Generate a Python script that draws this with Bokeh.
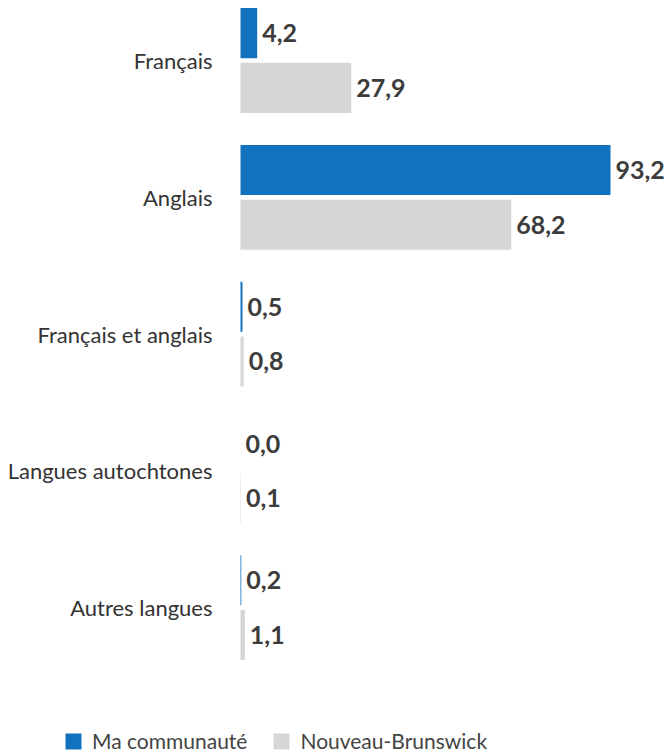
from bokeh.plotting import figure
from bokeh.models import ColumnDataSource, Range1d, Legend, LegendItem
from bokeh.transform import dodge
from bokeh.core.properties import value
from bokeh.embed import file_html
from bokeh.resources import INLINE

categories = ["Français", "Anglais", "Français et anglais", "Langues autochtones", "Autres langues"]
communaute = [4.2, 93.2, 0.5, 0.0, 0.2]
nouveau_brunswick = [27.9, 68.2, 0.8, 0.1, 1.1]
series_names = ["Ma communauté", "Nouveau-Brunswick"]

BLUE = "#1272BE"
GRAY = "#D6D6D6"
TXT = "#3C3C3C"
FONT = "Lato"

def fmt(v):
    return f"{v:.1f}".replace(".", ",")

src = ColumnDataSource(dict(
    pos=list(range(len(categories))),
    cat=categories,
    zero=[0] * len(categories),
    a=communaute,
    b=nouveau_brunswick,
    la=[fmt(v) for v in communaute],
    lb=[fmt(v) for v in nouveau_brunswick],
))

W, H = 668, 754
px_x = 3.97      # pixels per percent
px_y = 136.8     # pixels per category
left_px = 240
top_px = 60

x_range = Range1d(-left_px / px_x, (W - left_px) / px_x)
y_range = Range1d(start=-top_px / px_y + H / px_y, end=-top_px / px_y)

p = figure(width=W, height=H, x_range=x_range, y_range=y_range,
           output_backend="svg", toolbar_location=None,
           min_border_left=0, min_border_right=0, min_border_top=0, min_border_bottom=0)

off = 0.2
h = 0.366
r1 = p.hbar(y=dodge("pos", -off), right="a", left=0, height=h,
            source=src, color=BLUE, line_color=None)
r2 = p.hbar(y=dodge("pos", off), right="b", left=0, height=h,
            source=src, color=GRAY, line_color=None)

for col, lab, d in (("a", "la", -off), ("b", "lb", off)):
    p.text(x=col, y=dodge("pos", d), text=lab, source=src,
           x_offset=5, text_baseline="middle", text_align="left",
           text_font=value(FONT), text_font_style="bold", text_font_size="25px",
           text_color=TXT)

# category labels, right-aligned next to the bars' origin
p.text(x="zero", y="pos", text="cat", source=src, x_offset=-28,
       text_baseline="middle", text_align="right",
       text_font=value(FONT), text_font_size="22px", text_color="#333333")

p.axis.visible = False
p.grid.visible = False
p.outline_line_color = None

legend = Legend(items=[LegendItem(label=series_names[0], renderers=[r1]),
                       LegendItem(label=series_names[1], renderers=[r2])],
                orientation="horizontal", location=(63, 1),
                glyph_width=20, glyph_height=20, label_standoff=9, spacing=24,
                padding=0, margin=0, border_line_color=None, background_fill_alpha=0,
                label_text_font=FONT, label_text_font_size="21px", label_text_color="#444444")
p.add_layout(legend, "center")

open("out.html", "w").write(file_html(p, INLINE))
